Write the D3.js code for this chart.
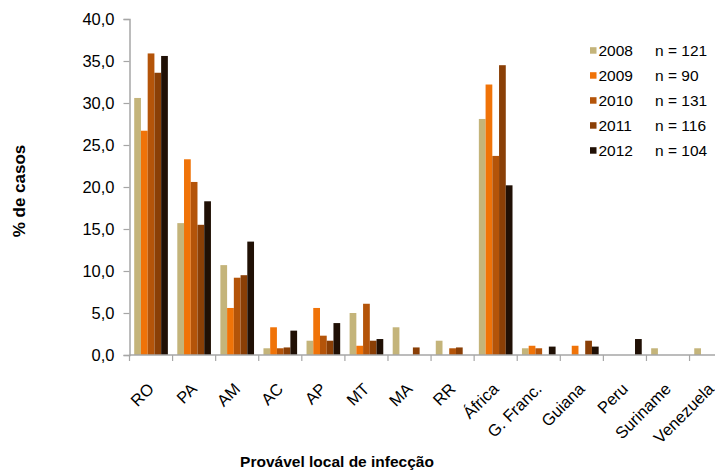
<!DOCTYPE html>
<html><head><meta charset="utf-8">
<script src="https://cdn.jsdelivr.net/npm/d3@7"></script>
<style>
html,body{margin:0;padding:0;background:#fff;}
text{font-family:"Liberation Sans",Arial,sans-serif;fill:#000;}
</style></head>
<body><svg id="chart" width="715" height="470"></svg>
<script>
const categories = ["RO","PA","AM","AC","AP","MT","MA","RR","África","G. Franc.","Guiana","Peru","Suriname","Venezuela"];
const years = ["2008","2009","2010","2011","2012"];
const sampleSizes = ["n = 121","n = 90","n = 131","n = 116","n = 104"];
const v2008 = [30.6,15.7,10.7,0.8,1.7,5.0,3.3,1.7,28.1,0.8,0,0,0.8,0.8];
const v2009 = [26.7,23.3,5.6,3.3,5.6,1.1,0,0,32.2,1.1,1.1,0,0,0];
const v2010 = [35.9,20.6,9.2,0.8,2.3,6.1,0,0.8,23.7,0.8,0,0,0,0];
const v2011 = [33.6,15.5,9.5,0.9,1.7,1.7,0.9,0.9,34.5,0,1.7,0,0,0];
const v2012 = [35.6,18.3,13.5,2.9,3.8,1.9,0,0,20.2,1.0,1.0,1.9,0,0];
const yTicks = [0,5,10,15,20,25,30,35,40];
const colors = ["#C4B47A","#F07308","#B45409","#8A3F06","#201005"];

const series = [v2008,v2009,v2010,v2011,v2012];
const svg = d3.select("#chart");
const x0 = 129.5, catW = 43.08;
const x = d3.scaleBand().domain(categories).range([x0, x0 + catW*categories.length]).padding(0);
const xs = d3.scaleBand().domain(years).range([0, x.bandwidth()]).paddingInner(0).paddingOuter(0.7);
const y = d3.scaleLinear().domain([0,40]).range([355,19]);

// bars
years.forEach((yr,i)=>{
  svg.append("g").selectAll("rect").data(categories.map((c,j)=>({c,v:series[i][j]})).filter(d=>d.v>0))
    .join("rect")
    .attr("x",d=>x(d.c)+xs(yr))
    .attr("y",d=>y(d.v))
    .attr("width",xs.bandwidth())
    .attr("height",d=>y(0)-y(d.v))
    .attr("fill",colors[i]);
});

// y axis
const yAxis = d3.axisLeft(y).tickValues(yTicks).tickSize(6).tickPadding(9)
  .tickFormat(d=>d3.format(".1f")(d).replace(".",","));
const gy = svg.append("g").attr("transform",`translate(${x0},0)`).call(yAxis);
gy.select(".domain").attr("stroke","#A6A6A6").attr("stroke-width",1.5);
gy.selectAll(".tick line").attr("stroke","#A6A6A6").attr("stroke-width",1.2);
gy.selectAll(".tick text").attr("font-size","16.5px").attr("font-family","Liberation Sans, Arial, sans-serif").attr("fill","#000");

// x axis
const gx = svg.append("g").attr("transform",`translate(0,${y(0)})`);
gx.append("line").attr("x1",x0).attr("x2",x0+catW*categories.length).attr("stroke","#A6A6A6").attr("stroke-width",1.5);
gx.selectAll("line.tk").data(categories.concat(["_end"])).join("line").attr("class","tk")
  .attr("x1",(d,i)=>x0+i*catW).attr("x2",(d,i)=>x0+i*catW).attr("y1",0).attr("y2",6)
  .attr("stroke","#A6A6A6").attr("stroke-width",1.2);
gx.selectAll("text").data(categories).join("text")
  .attr("transform",d=>`translate(${x(d)+x.bandwidth()/2+4},${35}) rotate(-45)`)
  .attr("text-anchor","end").attr("font-size","16.5px").text(d=>d);

// axis titles
svg.append("text").attr("transform","translate(25,191) rotate(-90)").attr("text-anchor","middle")
  .attr("font-size","17px").attr("font-weight","bold").text("% de casos");
svg.append("text").attr("x",337).attr("y",467).attr("text-anchor","middle")
  .attr("font-size","15.5px").attr("font-weight","bold").text("Provável local de infecção");

// legend
const lg = svg.append("g");
years.forEach((yr,i)=>{
  const cy = 50.5 + i*25;
  lg.append("rect").attr("x",590).attr("y",cy-3.3).attr("width",6.5).attr("height",6.5).attr("fill",colors[i]);
  lg.append("text").attr("x",598.5).attr("y",cy+5.7).attr("font-size","15.5px").text(yr);
  lg.append("text").attr("x",655).attr("y",cy+5.7).attr("font-size","15.5px").text(sampleSizes[i]);
});
</script></body></html>
